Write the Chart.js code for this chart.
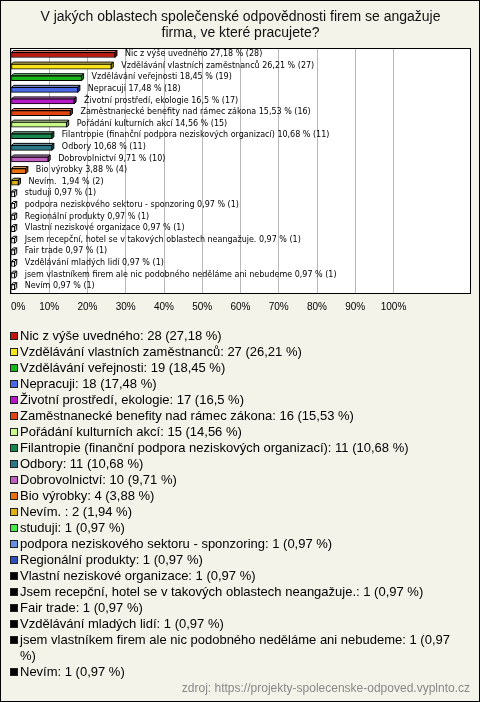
<!DOCTYPE html>
<html>
<head>
<meta charset="utf-8">
<script src="https://cdn.jsdelivr.net/npm/chart.js@4"></script>
<style>
  body { margin: 0; position: relative; width: 480px; height: 702px; overflow: hidden; font-family: "Liberation Sans", Arial, sans-serif; }
  #frame { position: absolute; left: 0; top: 0; width: 480px; height: 702px; box-sizing: border-box; border: 1px solid #000; background: #f4f3ea; }
  #chart { position: absolute; left: 0; top: 0; }
  #legend { position: absolute; left: 10px; top: 328px; width: 454px; margin: 0; padding: 0; list-style: none; font-size: 13px; line-height: 16px; color: #000; }
  #legend li { display: flex; align-items: flex-start; }
  #legend .sw { flex: none; width: 8px; height: 8px; box-sizing: border-box; border: 1px solid #222; margin: 4px 2px 0 0; }
  #source { position: absolute; right: 10px; top: 681px; font-size: 12px; color: #888; }
</style>
</head>
<body>
<div id="frame"></div>
<canvas id="chart" width="480" height="330"></canvas>
<ul id="legend"></ul>
<div id="source">zdroj: https://projekty-spolecenske-odpoved.vyplnto.cz</div>
<script>
const titleLines = [
    "V jakých oblastech společenské odpovědnosti firem se angažuje",
    "firma, ve které pracujete?"
];
const categories = [
    "Nic z výše uvedného",
    "Vzdělávání vlastních zaměstnanců",
    "Vzdělávání veřejnosti",
    "Nepracuji",
    "Životní prostředí, ekologie",
    "Zaměstnanecké benefity nad rámec zákona",
    "Pořádání kulturních akcí",
    "Filantropie (finanční podpora neziskových organizací)",
    "Odbory",
    "Dobrovolnictví",
    "Bio výrobky",
    "Nevím. ",
    "studuji",
    "podpora neziskového sektoru - sponzoring",
    "Regionální produkty",
    "Vlastní neziskové organizace",
    "Jsem recepční, hotel se v takových oblastech neangažuje.",
    "Fair trade",
    "Vzdělávání mladých lidí",
    "jsem vlastníkem firem ale nic podobného neděláme ani nebudeme",
    "Nevím"
];
const counts = [28, 27, 19, 18, 17, 16, 15, 11, 11, 10, 4, 2, 1, 1, 1, 1, 1, 1, 1, 1, 1];
const percents = [27.18, 26.21, 18.45, 17.48, 16.5, 15.53, 14.56, 10.68, 10.68, 9.71, 3.88, 1.94,
    0.97, 0.97, 0.97, 0.97, 0.97, 0.97, 0.97, 0.97, 0.97];
const colors = [
    "#c0180c", "#f8e418", "#18b818", "#4868e8", "#b818c8", "#e04410", "#c8f888",
    "#188850", "#287888", "#c060c0", "#e87010", "#e0b010", "#48e848", "#6890e0",
    "#3050c0", "#000000", "#000000", "#000000", "#000000", "#000000", "#000000"
];
const tickMax = 100;

const fmt = v => String(v).replace(".", ",");

function shade(hex, amt) {
    const n = parseInt(hex.slice(1), 16);
    let r = n >> 16, g = (n >> 8) & 255, b = n & 255;
    if (amt > 0) {
        r += (255 - r) * amt; g += (255 - g) * amt; b += (255 - b) * amt;
    } else {
        r *= 1 + amt; g *= 1 + amt; b *= 1 + amt;
    }
    return `rgb(${Math.round(r)},${Math.round(g)},${Math.round(b)})`;
}

// tiny bars are drawn as hollow cubes in the original
const faceColor = (i, amt) => percents[i] < 1 || colors[i] === "#000000" ? "#fff" : (amt ? shade(colors[i], amt) : colors[i]);

// white plot area + frame
const plotFrame = {
    id: "plotFrame",
    beforeDraw(chart) {
        const { ctx, chartArea: a } = chart;
        ctx.save();
        ctx.fillStyle = "#fff";
        ctx.fillRect(a.left, a.top, a.right - a.left, a.bottom - a.top);
        ctx.restore();
    },
    afterDraw(chart) {
        const { ctx, chartArea: a } = chart;
        ctx.save();
        ctx.strokeStyle = "#000";
        ctx.lineWidth = 1;
        ctx.strokeRect(Math.round(a.left) - 0.5, Math.round(a.top) - 0.5,
            Math.round(a.right - a.left) + 1, Math.round(a.bottom - a.top) + 1);
        ctx.restore();
    }
};

// fake 3d depth behind every bar, then the value labels
const bar3d = {
    id: "bar3d",
    beforeDatasetsDraw(chart) {
        const { ctx } = chart;
        const d = 2;
        chart.getDatasetMeta(0).data.forEach((el, i) => {
            const { x, y, base, height } = el.getProps(["x", "y", "base", "height"], true);
            const top = y - height / 2, bottom = y + height / 2;
            ctx.save();
            ctx.strokeStyle = "#000";
            ctx.lineWidth = 1;
            ctx.beginPath();
            ctx.moveTo(base, top);
            ctx.lineTo(base + d, top - d);
            ctx.lineTo(x + d, top - d);
            ctx.lineTo(x, top);
            ctx.closePath();
            ctx.fillStyle = faceColor(i, 0.35);
            ctx.fill();
            ctx.stroke();
            ctx.beginPath();
            ctx.moveTo(x, top);
            ctx.lineTo(x + d, top - d);
            ctx.lineTo(x + d, bottom - d);
            ctx.lineTo(x, bottom);
            ctx.closePath();
            ctx.fillStyle = faceColor(i, -0.3);
            ctx.fill();
            ctx.stroke();
            ctx.restore();
        });
    },
    afterDatasetsDraw(chart) {
        const { ctx } = chart;
        ctx.save();
        ctx.font = "8px 'DejaVu Sans'";
        ctx.fillStyle = "#000";
        ctx.textBaseline = "middle";
        chart.getDatasetMeta(0).data.forEach((el, i) => {
            const { x, y } = el.getProps(["x", "y"], true);
            ctx.fillText(`${categories[i]} ${fmt(percents[i])} % (${counts[i]})`, x + 10, y - 1);
        });
        ctx.restore();
    }
};

new Chart(document.getElementById("chart").getContext("2d"), {
    type: "bar",
    data: {
        labels: categories,
        datasets: [{
            data: percents,
            backgroundColor: categories.map((c, i) => faceColor(i, 0)),
            borderColor: "#000",
            borderWidth: 1,
            borderSkipped: false,
            barThickness: 5
        }]
    },
    options: {
        indexAxis: "y",
        responsive: false,
        animation: false,
        layout: { padding: { left: 11, right: 10, top: 0, bottom: 9 } },
        plugins: {
            legend: { display: false },
            tooltip: { enabled: false },
            title: {
                display: true,
                text: titleLines,
                color: "#111",
                font: { family: "'Liberation Sans'", size: 14, weight: "normal", lineHeight: 1.15 },
                padding: { top: 9, bottom: 8 }
            }
        },
        scales: {
            x: {
                min: 0,
                max: 120,
                border: { display: false },
                grid: {
                    drawTicks: false,
                    color: c => c.tick && c.tick.value <= tickMax ? "#b8b8b8" : "rgba(0,0,0,0)"
                },
                ticks: {
                    stepSize: 10,
                    autoSkip: false,
                    maxRotation: 0,
                    align: "inner",
                    padding: 8,
                    color: "#000",
                    font: { family: "'Liberation Sans'", size: 10 },
                    callback: v => v > tickMax ? "" : v + "%"
                }
            },
            y: { display: false }
        }
    },
    plugins: [plotFrame, bar3d]
});

const legend = document.getElementById("legend");
categories.forEach((c, i) => {
    const li = document.createElement("li");
    const sw = document.createElement("span");
    sw.className = "sw";
    sw.style.background = colors[i];
    const tx = document.createElement("span");
    tx.textContent = `${c}: ${counts[i]} (${fmt(percents[i])} %)`;
    li.appendChild(sw);
    li.appendChild(tx);
    legend.appendChild(li);
});
</script>
</body>
</html>
